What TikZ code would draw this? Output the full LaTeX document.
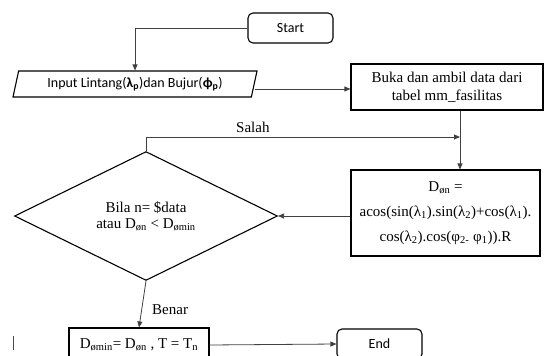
\documentclass[tikz,border=0pt]{standalone}
\usepackage{fontspec}
\setmainfont{Liberation Serif}
\newfontfamily\calfont{Carlito}
\usetikzlibrary{shapes.geometric,arrows.meta,calc}
\begin{document}
\begin{tikzpicture}[x=1pt,y=-1pt,
  box/.style={draw=black,line width=1.1pt,inner sep=0pt,align=center},
  term/.style={box,rounded corners=5pt,font=\calfont\fontsize{14}{16}\selectfont},
  proc/.style={box,rectangle,font=\fontsize{15}{18}\selectfont},
  arr/.style={draw=black!75,line width=0.8pt,-{Triangle[length=6pt,width=5pt]}},
  lbl/.style={font=\fontsize{15}{18}\selectfont,inner sep=0pt}]
\useasboundingbox (0,0) rectangle (544,356);
\clip (0,0) rectangle (544,356);
\fill[white] (0,0) rectangle (544,356);
% nodes
\node[term,minimum width=85pt,minimum height=30pt] (start) at (290.5,28) {Start};
\node[box,trapezium,trapezium left angle=68,trapezium right angle=112,trapezium stretches body,
  minimum width=244pt,minimum height=26pt,font=\calfont\fontsize{14}{16}\selectfont] (input) at (135,84)
  {Input Lintang(\textbf{λ\textsubscript{p}})dan Bujur(\textbf{ϕ\textsubscript{p}})};
\node[proc,minimum width=192pt,minimum height=46pt] (buka) at (447,87)
  {Buka dan ambil data dari\\tabel mm\_fasilitas};
\node[proc,minimum width=189pt,minimum height=86pt] (dbox) at (445.5,213)
  {D\textsubscript{øn} =\\[7pt]acos(sin(λ\textsubscript{1}).sin(λ\textsubscript{2})+cos(λ\textsubscript{1}).\\[7pt]cos(λ\textsubscript{2}).cos(φ\textsubscript{2-} φ\textsubscript{1})).R};
\node[box,diamond,minimum width=263pt,minimum height=92pt,font=\fontsize{15}{16}\selectfont] (dia) at (146,216)
  {Bila n= \$data\\atau D\textsubscript{øn} < D\textsubscript{ømin}};
\node[proc,minimum width=140pt,minimum height=34pt] (bot) at (139,345)
  {D\textsubscript{ømin}= D\textsubscript{øn} , T = T\textsubscript{n}};
\node[term,minimum width=85pt,minimum height=30pt] (end) at (379.5,344) {End};
\coordinate (j) at (460,137);
% connectors
\draw[arr] (start.west) -| (input.north);
\draw[arr] ([yshift=-5pt]input.east) -- ([yshift=-2pt]buka.west);
\draw[arr] (j |- buka.south) -- (j |- dbox.north);
\draw[arr] (dia.north) |- (j);
\draw[arr] (dbox.west |- dia.east) -- (dia.east);
\draw[arr] (dia.south) -- (bot.north);
\draw[arr] (bot.east) -- (end.west);
\node[lbl,anchor=south west] at (236,133) {Salah};
\node[lbl,anchor=west] at (152,310) {Benar};
\draw[black!70,line width=0.8pt] (13,336) -- (13,350);
\end{tikzpicture}
\end{document}
